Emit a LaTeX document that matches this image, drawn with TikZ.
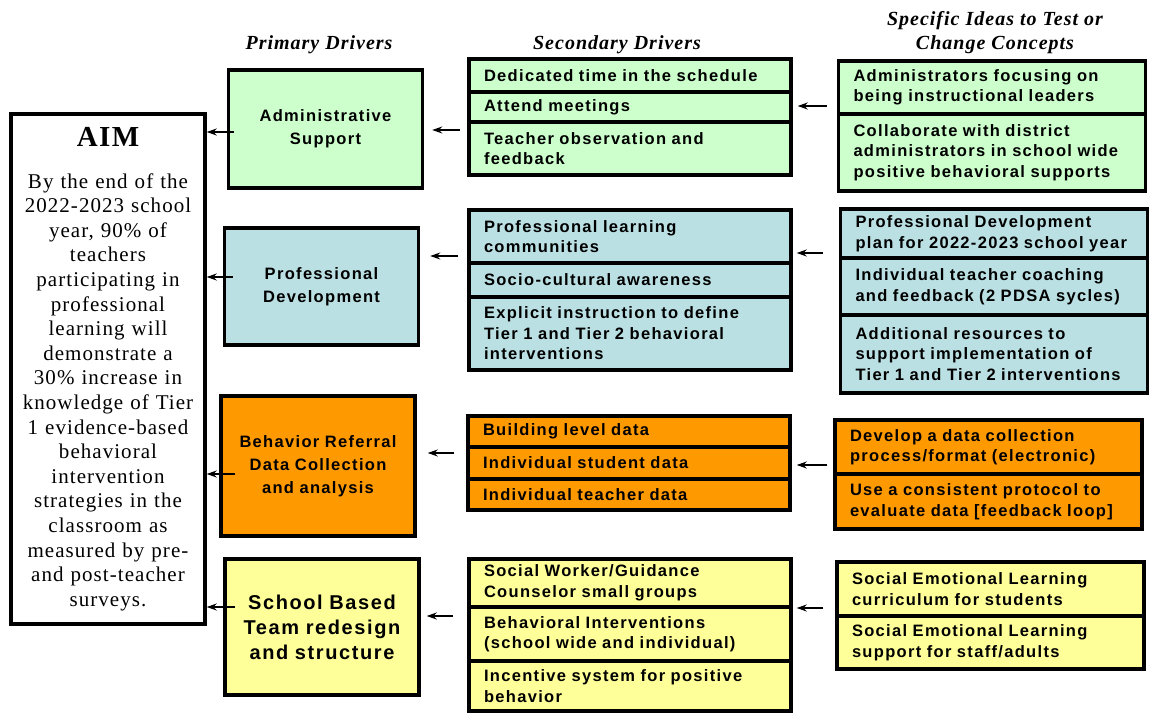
\documentclass[tikz,border=0pt]{standalone}
\usepackage{fontspec}
\setmainfont{Liberation Serif}
\newfontfamily\boxfont[LetterSpace=8]{Liberation Sans}
\newfontfamily\aimfont[LetterSpace=5]{Liberation Serif}
\usetikzlibrary{arrows.meta}
\definecolor{drgreen}{HTML}{CCFFCC}
\definecolor{drblue}{HTML}{BBE0E3}
\definecolor{drorange}{HTML}{FF9900}
\definecolor{dryellow}{HTML}{FFFF99}

\begin{document}
\begin{tikzpicture}[x=1pt, y=-1pt,
    aimbox/.style={draw, line width=3.5pt, align=center, inner sep=0pt,
      minimum width=194pt, minimum height=510pt, text width=190pt,
      font=\aimfont\fontsize{21}{24.6}\selectfont},
    prim/.style={draw, line width=3.5pt, align=center, inner sep=0pt,
      text width=185pt, minimum width=194pt,
      font=\boxfont\bfseries\fontsize{16.5}{23}\selectfont},
    sec/.style={draw, line width=3.5pt, align=left, inner sep=0pt,
      text width=322pt,
      execute at begin node={\leftskip=15pt\rightskip=-25pt plus 1fil},
      font=\boxfont\bfseries\fontsize{16.5}{20.5}\selectfont},
    idea/.style={sec, text width=307pt},
    hdr/.style={align=center, font=\aimfont\bfseries\itshape\fontsize{20}{24}\selectfont},
    arr/.style={-{Stealth[length=10pt, width=7pt]}, line width=1.2pt}]
  \useasboundingbox (0,0) rectangle (1152,715);
  % --- Column headings ---
  \node[hdr] (hprim) at (319,45) {Primary Drivers};
  \node[hdr] (hsec) at (617,45) {Secondary Drivers};
  \node[hdr] (hidea) at (995,33) {Specific Ideas to Test or\\Change Concepts};
  % --- Aim ---
  \node[aimbox] (aim) at (108,369)
    {{\fontsize{29}{30}\selectfont\bfseries AIM}\\[17pt]
     By the end of the\\2022-2023 school\\year, 90\% of\\teachers\\
     participating in\\professional\\learning will\\demonstrate a\\
     30\% increase in\\knowledge of Tier\\1 evidence-based\\behavioral\\
     intervention\\strategies in the\\classroom as\\measured by pre-\\
     and post-teacher\\surveys.};
  % --- Primary drivers ---
  \node[prim, fill=drgreen, minimum height=118pt] (adm) at (325.5,129)
    {Administrative\\Support};
  \node[prim, fill=drblue, minimum height=117pt] (pd) at (321.5,286.5)
    {Professional\\Development};
  \node[prim, fill=drorange, minimum height=140pt] (br) at (318,466)
    {Behavior Referral\\Data Collection\\and analysis};
  \node[prim, fill=dryellow, minimum height=136pt,
        font=\boxfont\bfseries\fontsize{20}{25}\selectfont] (sb) at (322,627)
    {School Based\\Team redesign\\and structure};
  % --- Secondary drivers ---
  \node[sec, fill=drgreen, minimum height=33pt] (s1a) at (630,75.5)
    {Dedicated time in the schedule};
  \node[sec, fill=drgreen, minimum height=30pt] (s1b) at (630,107)
    {Attend meetings};
  \node[sec, fill=drgreen, minimum height=53pt] (s1c) at (630,148.5)
    {Teacher observation and\\feedback};
  \node[sec, fill=drblue, minimum height=53pt] (s2a) at (630,236.5)
    {Professional learning\\communities};
  \node[sec, fill=drblue, minimum height=34pt] (s2b) at (630,280)
    {Socio-cultural awareness};
  \node[sec, fill=drblue, minimum height=73pt] (s2c) at (630,333.5)
    {Explicit instruction to define\\Tier 1 and Tier 2 behavioral\\interventions};
  \node[sec, fill=drorange, minimum height=31pt] (s3a) at (629,431.5)
    {Building level data};
  \node[sec, fill=drorange, minimum height=32pt] (s3b) at (629,463)
    {Individual student data};
  \node[sec, fill=drorange, minimum height=31pt] (s3c) at (629,494.5)
    {Individual teacher data};
  \node[sec, fill=dryellow, minimum height=48pt] (s4a) at (630,583)
    {Social Worker/Guidance\\Counselor small groups};
  \node[sec, fill=dryellow, minimum height=54pt] (s4b) at (630,634)
    {Behavioral Interventions\\(school wide and individual)};
  \node[sec, fill=dryellow, minimum height=50pt] (s4c) at (630,686)
    {Incentive system for positive\\behavior};
  % --- Change ideas ---
  \node[idea, fill=drgreen, minimum height=53pt] (i1a) at (992,87.5)
    {Administrators focusing on\\being instructional leaders};
  \node[idea, fill=drgreen, minimum height=77pt] (i1b) at (992,152.5)
    {Collaborate with district\\administrators in school wide\\positive behavioral supports};
  \node[idea, fill=drblue, minimum height=49pt] (i2a) at (994,233.5)
    {Professional Development\\plan for 2022-2023 school year};
  \node[idea, fill=drblue, minimum height=57pt] (i2b) at (994,286.5)
    {Individual teacher coaching\\and feedback (2 PDSA sycles)};
  \node[idea, fill=drblue, minimum height=78pt] (i2c) at (994,354)
    {Additional resources to\\support implementation of\\Tier 1 and Tier 2 interventions};
  \node[idea, fill=drorange, minimum height=54pt] (i3a) at (988.5,447)
    {Develop a data collection\\process/format (electronic)};
  \node[idea, fill=drorange, minimum height=55pt] (i3b) at (988.5,501.5)
    {Use a consistent protocol to\\evaluate data [feedback loop]};
  \node[idea, fill=dryellow, minimum height=54pt] (i4a) at (990.5,589)
    {Social Emotional Learning\\curriculum for students};
  \node[idea, fill=dryellow, minimum height=53pt] (i4b) at (990.5,642.5)
    {Social Emotional Learning\\support for staff/adults};
  % --- Arrows: primary -> aim ---
  \draw[arr, shorten <=-7.5pt] (adm.west |- 0,132) -- (aim.east |- 0,132);
  \draw[arr, shorten <=-10pt] (pd.west |- 0,277) -- (aim.east |- 0,277);
  \draw[arr, shorten <=-16pt] (br.west |- 0,474) -- (aim.east |- 0,474);
  \draw[arr, shorten <=-12pt] (sb.west |- 0,607) -- (aim.east |- 0,607);
  % --- Arrows: secondary -> primary ---
  \draw[arr, shorten <=7pt, shorten >=8pt] (s1c.west |- 0,130) -- (adm.east |- 0,130);
  \draw[arr, shorten <=9pt, shorten >=10pt] (s2a.west |- 0,256) -- (pd.east |- 0,256);
  \draw[arr, shorten <=12pt, shorten >=11pt] (s3b.west |- 0,453) -- (br.east |- 0,453);
  \draw[arr, shorten <=14pt, shorten >=6pt] (s4b.west |- 0,616) -- (sb.east |- 0,616);
  % --- Arrows: ideas -> secondary ---
  \draw[arr, shorten <=10pt, shorten >=5pt] (i1a.west |- 0,106) -- (s1b.east |- 0,106);
  \draw[arr, shorten <=16pt, shorten >=4pt] (i2b.west |- 0,253) -- (s2a.east |- 0,253);
  \draw[arr, shorten <=6pt, shorten >=5pt] (i3a.west |- 0,465) -- (s3b.east |- 0,465);
  \draw[arr, shorten <=12pt, shorten >=4pt] (i4a.west |- 0,608) -- (s4b.east |- 0,608);
\end{tikzpicture}
\end{document}
